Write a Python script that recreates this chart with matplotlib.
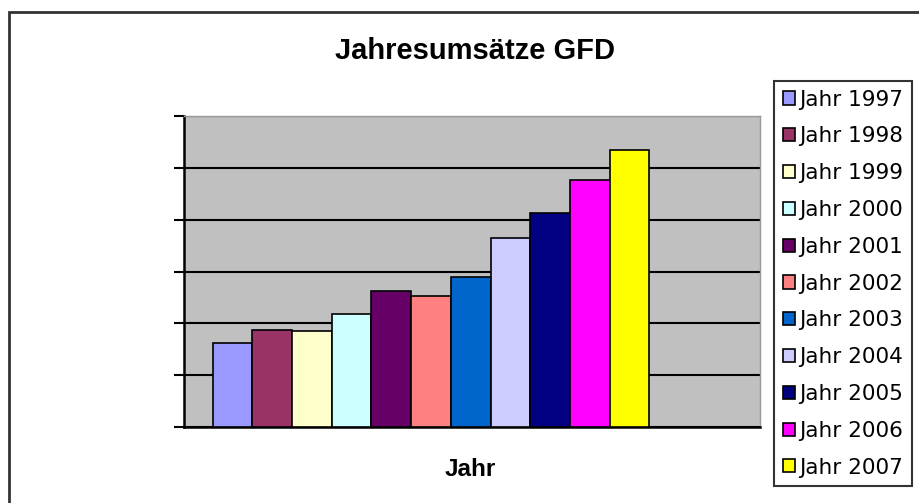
import matplotlib
matplotlib.use("Agg")
import matplotlib.pyplot as plt
import matplotlib.patches as patches

# Umsatz pro Jahr (Achsenbeschriftung im Original entfernt, Werte relativ zum Raster)
jahre = ["1997", "1998", "1999", "2000", "2001", "2002",
         "2003", "2004", "2005", "2006", "2007"]
umsatz = [163, 187, 185, 218, 263, 253, 290, 365, 412, 477, 535]
farben = ["#9999FF", "#993366", "#FFFFCC", "#CCFFFF", "#660066", "#FF8080",
          "#0066CC", "#CCCCFF", "#000080", "#FF00FF", "#FFFF00"]

fig = plt.figure(figsize=(9.2, 5.03), dpi=100)
fig.patch.set_facecolor("white")

# outer chart frame (runs off the right and bottom edge like the screenshot)
frame = patches.Rectangle((9 / 920, -0.05), 1.0, 1 - 12 / 503 + 0.05,
                          transform=fig.transFigure, fill=False,
                          edgecolor="#333333", linewidth=2)
fig.add_artist(frame)

ax = fig.add_axes([184 / 920, 76 / 503, 576 / 920, 311 / 503])
ax.set_facecolor("#C0C0C0")

# Excel style: one category, every year its own series
for i, (jahr, wert, farbe) in enumerate(zip(jahre, umsatz, farben)):
    ax.bar(i, wert, width=1.0, color=farbe, edgecolor="black",
           linewidth=1.2, label="Jahr " + jahr, zorder=3)

ax.set_xlim(-1.223, 13.29)
ax.set_ylim(0, 600)
ax.set_yticks(range(0, 601, 100))
ax.set_yticklabels([])
ax.set_xticks([])
ax.yaxis.grid(True, color="black", linewidth=1.5, zorder=1)
ax.tick_params(axis="y", direction="out", length=7, width=1.5, color="black")

ax.spines["left"].set_color("black")
ax.spines["left"].set_linewidth(1.8)
ax.spines["bottom"].set_color("black")
ax.spines["bottom"].set_linewidth(1.8)
for s in ("top", "right"):
    ax.spines[s].set_color("#999999")
    ax.spines[s].set_linewidth(1)

fig.text(475 / 920, 1 - 51 / 503, "Jahresumsätze GFD", ha="center",
         va="center", fontsize=21, fontweight="bold", family="Liberation Sans")
fig.text(470 / 920, 1 - 470 / 503, "Jahr", ha="center", va="center",
         fontsize=17.5, fontweight="bold", family="Liberation Sans")

leg = fig.legend(loc="upper left", bbox_to_anchor=(774 / 920, 1 - 81 / 503),
                 bbox_transform=fig.transFigure,
                 prop={"family": "DejaVu Sans", "size": 15.5},
                 frameon=True, fancybox=False, shadow=False,
                 borderaxespad=0, borderpad=0.4, labelspacing=0.78,
                 handlelength=0.56, handleheight=0.56, handletextpad=0.22)
leg.get_frame().set_edgecolor("black")
leg.get_frame().set_linewidth(1.5)
for h in leg.legend_handles:
    h.set_linewidth(1.2)

fig.savefig("out.png", dpi=100)
